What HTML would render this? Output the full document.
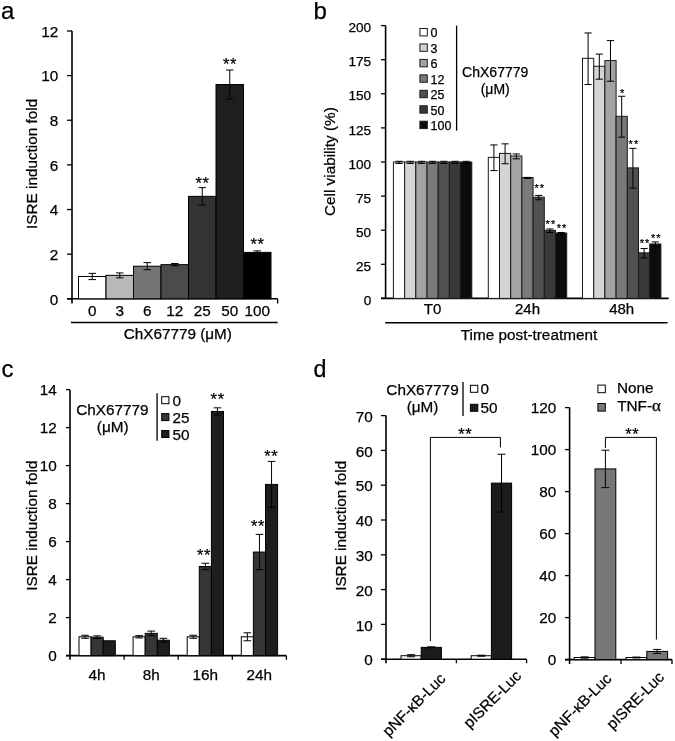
<!DOCTYPE html>
<html><head><meta charset="utf-8"><style>
html,body{margin:0;padding:0;background:#fff;}
svg{display:block;font-family:"Liberation Sans", sans-serif;will-change:transform;}
text{stroke:#000;stroke-width:0.25px;}
</style></head><body>
<svg width="675" height="741" viewBox="0 0 675 741">
<rect x="0" y="0" width="675" height="741" fill="#fff"/>
<text x="1.10" y="18.80" font-size="24" text-anchor="start" fill="#000">a</text>
<text x="313.50" y="18.80" font-size="24" text-anchor="start" fill="#000">b</text>
<text x="1.40" y="376.60" font-size="24" text-anchor="start" fill="#000">c</text>
<text x="313.60" y="377.00" font-size="23.3" text-anchor="start" fill="#000">d</text>
<line x1="72.00" y1="31.00" x2="72.00" y2="303.50" stroke="#000" stroke-width="1.6"/>
<line x1="67.00" y1="298.80" x2="72.00" y2="298.80" stroke="#000" stroke-width="1.3"/>
<text x="58.30" y="304.60" font-size="15.3" text-anchor="end" fill="#000">0</text>
<line x1="67.00" y1="254.16" x2="72.00" y2="254.16" stroke="#000" stroke-width="1.3"/>
<text x="58.30" y="259.96" font-size="15.3" text-anchor="end" fill="#000">2</text>
<line x1="67.00" y1="209.52" x2="72.00" y2="209.52" stroke="#000" stroke-width="1.3"/>
<text x="58.30" y="215.32" font-size="15.3" text-anchor="end" fill="#000">4</text>
<line x1="67.00" y1="164.88" x2="72.00" y2="164.88" stroke="#000" stroke-width="1.3"/>
<text x="58.30" y="170.68" font-size="15.3" text-anchor="end" fill="#000">6</text>
<line x1="67.00" y1="120.24" x2="72.00" y2="120.24" stroke="#000" stroke-width="1.3"/>
<text x="58.30" y="126.04" font-size="15.3" text-anchor="end" fill="#000">8</text>
<line x1="67.00" y1="75.60" x2="72.00" y2="75.60" stroke="#000" stroke-width="1.3"/>
<text x="58.30" y="81.40" font-size="15.3" text-anchor="end" fill="#000">10</text>
<line x1="67.00" y1="30.96" x2="72.00" y2="30.96" stroke="#000" stroke-width="1.3"/>
<text x="58.30" y="36.76" font-size="15.3" text-anchor="end" fill="#000">12</text>
<line x1="67.00" y1="298.80" x2="277.60" y2="298.80" stroke="#000" stroke-width="1.6"/>
<line x1="277.60" y1="298.80" x2="277.60" y2="303.50" stroke="#000" stroke-width="1.3"/>
<rect x="78.50" y="276.48" width="27.50" height="22.32" fill="#ffffff" stroke="#000" stroke-width="1.0"/>
<line x1="92.25" y1="273.36" x2="92.25" y2="279.60" stroke="#000" stroke-width="1.0"/>
<line x1="88.50" y1="273.36" x2="96.00" y2="273.36" stroke="#000" stroke-width="1.0"/>
<line x1="88.50" y1="279.60" x2="96.00" y2="279.60" stroke="#000" stroke-width="1.0"/>
<text x="92.25" y="315.50" font-size="15.3" text-anchor="middle" fill="#000">0</text>
<rect x="106.00" y="275.36" width="27.50" height="23.44" fill="#b8b8b8" stroke="#000" stroke-width="1.0"/>
<line x1="119.75" y1="272.91" x2="119.75" y2="277.82" stroke="#000" stroke-width="1.0"/>
<line x1="116.00" y1="272.91" x2="123.50" y2="272.91" stroke="#000" stroke-width="1.0"/>
<line x1="116.00" y1="277.82" x2="123.50" y2="277.82" stroke="#000" stroke-width="1.0"/>
<text x="119.75" y="315.50" font-size="15.3" text-anchor="middle" fill="#000">3</text>
<rect x="133.50" y="266.21" width="27.50" height="32.59" fill="#757575" stroke="#000" stroke-width="1.0"/>
<line x1="147.25" y1="262.64" x2="147.25" y2="269.78" stroke="#000" stroke-width="1.0"/>
<line x1="143.50" y1="262.64" x2="151.00" y2="262.64" stroke="#000" stroke-width="1.0"/>
<line x1="143.50" y1="269.78" x2="151.00" y2="269.78" stroke="#000" stroke-width="1.0"/>
<text x="147.25" y="315.50" font-size="15.3" text-anchor="middle" fill="#000">6</text>
<rect x="161.00" y="264.65" width="27.50" height="34.15" fill="#4b4b4b" stroke="#000" stroke-width="1.0"/>
<line x1="174.75" y1="263.53" x2="174.75" y2="265.77" stroke="#000" stroke-width="1.0"/>
<line x1="171.00" y1="263.53" x2="178.50" y2="263.53" stroke="#000" stroke-width="1.0"/>
<line x1="171.00" y1="265.77" x2="178.50" y2="265.77" stroke="#000" stroke-width="1.0"/>
<text x="174.75" y="315.50" font-size="15.3" text-anchor="middle" fill="#000">12</text>
<rect x="188.50" y="196.35" width="27.50" height="102.45" fill="#333333" stroke="#000" stroke-width="1.0"/>
<line x1="202.25" y1="187.65" x2="202.25" y2="205.06" stroke="#000" stroke-width="1.0"/>
<line x1="198.50" y1="187.65" x2="206.00" y2="187.65" stroke="#000" stroke-width="1.0"/>
<line x1="198.50" y1="205.06" x2="206.00" y2="205.06" stroke="#000" stroke-width="1.0"/>
<text x="202.25" y="315.50" font-size="15.3" text-anchor="middle" fill="#000">25</text>
<rect x="216.00" y="84.53" width="27.50" height="214.27" fill="#1e1e1e" stroke="#000" stroke-width="1.0"/>
<line x1="229.75" y1="70.02" x2="229.75" y2="99.04" stroke="#000" stroke-width="1.0"/>
<line x1="226.00" y1="70.02" x2="233.50" y2="70.02" stroke="#000" stroke-width="1.0"/>
<line x1="226.00" y1="99.04" x2="233.50" y2="99.04" stroke="#000" stroke-width="1.0"/>
<text x="229.75" y="315.50" font-size="15.3" text-anchor="middle" fill="#000">50</text>
<rect x="243.50" y="252.37" width="27.50" height="46.43" fill="#000000" stroke="#000" stroke-width="1.0"/>
<line x1="257.25" y1="250.92" x2="257.25" y2="253.83" stroke="#000" stroke-width="1.0"/>
<line x1="253.50" y1="250.92" x2="261.00" y2="250.92" stroke="#000" stroke-width="1.0"/>
<line x1="253.50" y1="253.83" x2="261.00" y2="253.83" stroke="#000" stroke-width="1.0"/>
<text x="257.25" y="315.50" font-size="15.3" text-anchor="middle" fill="#000">100</text>
<text x="202.60" y="188.60" font-size="16.5" text-anchor="middle" fill="#000" letter-spacing="0.7">**</text>
<text x="230.10" y="69.60" font-size="16.5" text-anchor="middle" fill="#000" letter-spacing="0.7">**</text>
<text x="257.60" y="250.20" font-size="16.5" text-anchor="middle" fill="#000" letter-spacing="0.7">**</text>
<line x1="71.00" y1="322.40" x2="277.60" y2="322.40" stroke="#000" stroke-width="1.5"/>
<text x="177.80" y="338.60" font-size="15.3" text-anchor="middle" fill="#000">ChX67779 (μM)</text>
<text x="36.90" y="163.90" font-size="15.3" text-anchor="middle" transform="rotate(-90 36.9 163.9)" fill="#000">ISRE induction fold</text>
<line x1="385.60" y1="25.60" x2="385.60" y2="298.40" stroke="#000" stroke-width="1.6"/>
<line x1="381.00" y1="298.40" x2="385.60" y2="298.40" stroke="#000" stroke-width="1.3"/>
<text x="371.20" y="305.00" font-size="13.6" text-anchor="end" fill="#000">0</text>
<line x1="381.00" y1="264.30" x2="385.60" y2="264.30" stroke="#000" stroke-width="1.3"/>
<text x="371.20" y="270.90" font-size="13.6" text-anchor="end" fill="#000">25</text>
<line x1="381.00" y1="230.20" x2="385.60" y2="230.20" stroke="#000" stroke-width="1.3"/>
<text x="371.20" y="236.80" font-size="13.6" text-anchor="end" fill="#000">50</text>
<line x1="381.00" y1="196.10" x2="385.60" y2="196.10" stroke="#000" stroke-width="1.3"/>
<text x="371.20" y="202.70" font-size="13.6" text-anchor="end" fill="#000">75</text>
<line x1="381.00" y1="162.00" x2="385.60" y2="162.00" stroke="#000" stroke-width="1.3"/>
<text x="371.20" y="168.60" font-size="13.6" text-anchor="end" fill="#000">100</text>
<line x1="381.00" y1="127.90" x2="385.60" y2="127.90" stroke="#000" stroke-width="1.3"/>
<text x="371.20" y="134.50" font-size="13.6" text-anchor="end" fill="#000">125</text>
<line x1="381.00" y1="93.80" x2="385.60" y2="93.80" stroke="#000" stroke-width="1.3"/>
<text x="371.20" y="100.40" font-size="13.6" text-anchor="end" fill="#000">150</text>
<line x1="381.00" y1="59.70" x2="385.60" y2="59.70" stroke="#000" stroke-width="1.3"/>
<text x="371.20" y="66.30" font-size="13.6" text-anchor="end" fill="#000">175</text>
<line x1="381.00" y1="25.60" x2="385.60" y2="25.60" stroke="#000" stroke-width="1.3"/>
<text x="371.20" y="32.20" font-size="13.6" text-anchor="end" fill="#000">200</text>
<line x1="381.00" y1="298.40" x2="668.60" y2="298.40" stroke="#000" stroke-width="1.6"/>
<rect x="393.40" y="162.00" width="11.20" height="136.40" fill="#ffffff" stroke="#1a1a1a" stroke-width="1.0"/>
<line x1="399.00" y1="161.31" x2="399.00" y2="163.49" stroke="#000" stroke-width="1.0"/>
<line x1="395.40" y1="161.31" x2="402.60" y2="161.31" stroke="#000" stroke-width="1.0"/>
<line x1="395.40" y1="163.49" x2="402.60" y2="163.49" stroke="#000" stroke-width="1.0"/>
<rect x="404.60" y="162.00" width="11.20" height="136.40" fill="#d4d4d4" stroke="#1a1a1a" stroke-width="1.0"/>
<line x1="410.20" y1="161.31" x2="410.20" y2="163.49" stroke="#000" stroke-width="1.0"/>
<line x1="406.60" y1="161.31" x2="413.80" y2="161.31" stroke="#000" stroke-width="1.0"/>
<line x1="406.60" y1="163.49" x2="413.80" y2="163.49" stroke="#000" stroke-width="1.0"/>
<rect x="415.80" y="162.00" width="11.20" height="136.40" fill="#a3a3a3" stroke="#1a1a1a" stroke-width="1.0"/>
<line x1="421.40" y1="161.31" x2="421.40" y2="163.49" stroke="#000" stroke-width="1.0"/>
<line x1="417.80" y1="161.31" x2="425.00" y2="161.31" stroke="#000" stroke-width="1.0"/>
<line x1="417.80" y1="163.49" x2="425.00" y2="163.49" stroke="#000" stroke-width="1.0"/>
<rect x="427.00" y="162.00" width="11.20" height="136.40" fill="#7a7a7a" stroke="#1a1a1a" stroke-width="1.0"/>
<line x1="432.60" y1="161.31" x2="432.60" y2="163.49" stroke="#000" stroke-width="1.0"/>
<line x1="429.00" y1="161.31" x2="436.20" y2="161.31" stroke="#000" stroke-width="1.0"/>
<line x1="429.00" y1="163.49" x2="436.20" y2="163.49" stroke="#000" stroke-width="1.0"/>
<rect x="438.20" y="162.00" width="11.20" height="136.40" fill="#515151" stroke="#1a1a1a" stroke-width="1.0"/>
<line x1="443.80" y1="161.31" x2="443.80" y2="163.49" stroke="#000" stroke-width="1.0"/>
<line x1="440.20" y1="161.31" x2="447.40" y2="161.31" stroke="#000" stroke-width="1.0"/>
<line x1="440.20" y1="163.49" x2="447.40" y2="163.49" stroke="#000" stroke-width="1.0"/>
<rect x="449.40" y="162.00" width="11.20" height="136.40" fill="#393939" stroke="#1a1a1a" stroke-width="1.0"/>
<line x1="455.00" y1="161.31" x2="455.00" y2="163.49" stroke="#000" stroke-width="1.0"/>
<line x1="451.40" y1="161.31" x2="458.60" y2="161.31" stroke="#000" stroke-width="1.0"/>
<line x1="451.40" y1="163.49" x2="458.60" y2="163.49" stroke="#000" stroke-width="1.0"/>
<rect x="460.60" y="162.00" width="11.20" height="136.40" fill="#0c0c0c" stroke="#1a1a1a" stroke-width="1.0"/>
<line x1="466.20" y1="161.31" x2="466.20" y2="163.49" stroke="#000" stroke-width="1.0"/>
<line x1="462.60" y1="161.31" x2="469.80" y2="161.31" stroke="#000" stroke-width="1.0"/>
<line x1="462.60" y1="163.49" x2="469.80" y2="163.49" stroke="#000" stroke-width="1.0"/>
<rect x="488.30" y="157.36" width="11.20" height="141.04" fill="#ffffff" stroke="#1a1a1a" stroke-width="1.0"/>
<line x1="493.90" y1="144.94" x2="493.90" y2="170.58" stroke="#000" stroke-width="1.0"/>
<line x1="490.30" y1="144.94" x2="497.50" y2="144.94" stroke="#000" stroke-width="1.0"/>
<line x1="490.30" y1="170.58" x2="497.50" y2="170.58" stroke="#000" stroke-width="1.0"/>
<rect x="499.50" y="153.41" width="11.20" height="144.99" fill="#d4d4d4" stroke="#1a1a1a" stroke-width="1.0"/>
<line x1="505.10" y1="143.85" x2="505.10" y2="163.76" stroke="#000" stroke-width="1.0"/>
<line x1="501.50" y1="143.85" x2="508.70" y2="143.85" stroke="#000" stroke-width="1.0"/>
<line x1="501.50" y1="163.76" x2="508.70" y2="163.76" stroke="#000" stroke-width="1.0"/>
<rect x="510.70" y="156.00" width="11.20" height="142.40" fill="#a3a3a3" stroke="#1a1a1a" stroke-width="1.0"/>
<line x1="516.30" y1="153.94" x2="516.30" y2="158.85" stroke="#000" stroke-width="1.0"/>
<line x1="512.70" y1="153.94" x2="519.90" y2="153.94" stroke="#000" stroke-width="1.0"/>
<line x1="512.70" y1="158.85" x2="519.90" y2="158.85" stroke="#000" stroke-width="1.0"/>
<rect x="521.90" y="177.55" width="11.20" height="120.85" fill="#7a7a7a" stroke="#1a1a1a" stroke-width="1.0"/>
<line x1="527.50" y1="177.40" x2="527.50" y2="178.50" stroke="#000" stroke-width="1.0"/>
<line x1="523.90" y1="177.40" x2="531.10" y2="177.40" stroke="#000" stroke-width="1.0"/>
<line x1="523.90" y1="178.50" x2="531.10" y2="178.50" stroke="#000" stroke-width="1.0"/>
<rect x="533.10" y="197.19" width="11.20" height="101.21" fill="#515151" stroke="#1a1a1a" stroke-width="1.0"/>
<line x1="538.70" y1="195.41" x2="538.70" y2="199.77" stroke="#000" stroke-width="1.0"/>
<line x1="535.10" y1="195.41" x2="542.30" y2="195.41" stroke="#000" stroke-width="1.0"/>
<line x1="535.10" y1="199.77" x2="542.30" y2="199.77" stroke="#000" stroke-width="1.0"/>
<rect x="544.30" y="230.34" width="11.20" height="68.06" fill="#393939" stroke="#1a1a1a" stroke-width="1.0"/>
<line x1="549.90" y1="228.96" x2="549.90" y2="232.51" stroke="#000" stroke-width="1.0"/>
<line x1="546.30" y1="228.96" x2="553.50" y2="228.96" stroke="#000" stroke-width="1.0"/>
<line x1="546.30" y1="232.51" x2="553.50" y2="232.51" stroke="#000" stroke-width="1.0"/>
<rect x="555.50" y="233.06" width="11.20" height="65.34" fill="#0c0c0c" stroke="#1a1a1a" stroke-width="1.0"/>
<line x1="561.10" y1="232.51" x2="561.10" y2="234.42" stroke="#000" stroke-width="1.0"/>
<line x1="557.50" y1="232.51" x2="564.70" y2="232.51" stroke="#000" stroke-width="1.0"/>
<line x1="557.50" y1="234.42" x2="564.70" y2="234.42" stroke="#000" stroke-width="1.0"/>
<rect x="582.50" y="58.34" width="11.20" height="240.06" fill="#ffffff" stroke="#1a1a1a" stroke-width="1.0"/>
<line x1="588.10" y1="32.96" x2="588.10" y2="84.52" stroke="#000" stroke-width="1.0"/>
<line x1="584.50" y1="32.96" x2="591.70" y2="32.96" stroke="#000" stroke-width="1.0"/>
<line x1="584.50" y1="84.52" x2="591.70" y2="84.52" stroke="#000" stroke-width="1.0"/>
<rect x="593.70" y="66.25" width="11.20" height="232.15" fill="#d4d4d4" stroke="#1a1a1a" stroke-width="1.0"/>
<line x1="599.30" y1="54.10" x2="599.30" y2="79.20" stroke="#000" stroke-width="1.0"/>
<line x1="595.70" y1="54.10" x2="602.90" y2="54.10" stroke="#000" stroke-width="1.0"/>
<line x1="595.70" y1="79.20" x2="602.90" y2="79.20" stroke="#000" stroke-width="1.0"/>
<rect x="604.90" y="60.52" width="11.20" height="237.88" fill="#a3a3a3" stroke="#1a1a1a" stroke-width="1.0"/>
<line x1="610.50" y1="40.59" x2="610.50" y2="81.24" stroke="#000" stroke-width="1.0"/>
<line x1="606.90" y1="40.59" x2="614.10" y2="40.59" stroke="#000" stroke-width="1.0"/>
<line x1="606.90" y1="81.24" x2="614.10" y2="81.24" stroke="#000" stroke-width="1.0"/>
<rect x="616.10" y="116.31" width="11.20" height="182.09" fill="#7a7a7a" stroke="#1a1a1a" stroke-width="1.0"/>
<line x1="621.70" y1="96.25" x2="621.70" y2="137.17" stroke="#000" stroke-width="1.0"/>
<line x1="618.10" y1="96.25" x2="625.30" y2="96.25" stroke="#000" stroke-width="1.0"/>
<line x1="618.10" y1="137.17" x2="625.30" y2="137.17" stroke="#000" stroke-width="1.0"/>
<rect x="627.30" y="167.87" width="11.20" height="130.53" fill="#515151" stroke="#1a1a1a" stroke-width="1.0"/>
<line x1="632.90" y1="148.35" x2="632.90" y2="188.18" stroke="#000" stroke-width="1.0"/>
<line x1="629.30" y1="148.35" x2="636.50" y2="148.35" stroke="#000" stroke-width="1.0"/>
<line x1="629.30" y1="188.18" x2="636.50" y2="188.18" stroke="#000" stroke-width="1.0"/>
<rect x="638.50" y="252.84" width="11.20" height="45.56" fill="#393939" stroke="#1a1a1a" stroke-width="1.0"/>
<line x1="644.10" y1="248.47" x2="644.10" y2="258.02" stroke="#000" stroke-width="1.0"/>
<line x1="640.50" y1="248.47" x2="647.70" y2="248.47" stroke="#000" stroke-width="1.0"/>
<line x1="640.50" y1="258.02" x2="647.70" y2="258.02" stroke="#000" stroke-width="1.0"/>
<rect x="649.70" y="243.98" width="11.20" height="54.42" fill="#0c0c0c" stroke="#1a1a1a" stroke-width="1.0"/>
<line x1="655.30" y1="241.92" x2="655.30" y2="246.83" stroke="#000" stroke-width="1.0"/>
<line x1="651.70" y1="241.92" x2="658.90" y2="241.92" stroke="#000" stroke-width="1.0"/>
<line x1="651.70" y1="246.83" x2="658.90" y2="246.83" stroke="#000" stroke-width="1.0"/>
<text x="539.70" y="192.30" font-size="11" text-anchor="middle" fill="#000" letter-spacing="1.0">**</text>
<text x="550.90" y="228.30" font-size="11" text-anchor="middle" fill="#000" letter-spacing="1.0">**</text>
<text x="562.10" y="231.90" font-size="11" text-anchor="middle" fill="#000" letter-spacing="1.0">**</text>
<text x="622.20" y="96.90" font-size="11" text-anchor="middle" fill="#000">*</text>
<text x="633.90" y="147.50" font-size="11" text-anchor="middle" fill="#000" letter-spacing="1.0">**</text>
<text x="645.10" y="247.20" font-size="11" text-anchor="middle" fill="#000" letter-spacing="1.0">**</text>
<text x="656.30" y="242.30" font-size="11" text-anchor="middle" fill="#000" letter-spacing="1.0">**</text>
<text x="432.60" y="313.70" font-size="15" text-anchor="middle" fill="#000">T0</text>
<text x="527.50" y="313.70" font-size="15" text-anchor="middle" fill="#000">24h</text>
<text x="621.70" y="313.70" font-size="15" text-anchor="middle" fill="#000">48h</text>
<line x1="385.20" y1="322.80" x2="667.60" y2="322.80" stroke="#000" stroke-width="1.5"/>
<text x="529.00" y="340.00" font-size="15.3" text-anchor="middle" fill="#000">Time post-treatment</text>
<text x="335.50" y="161.60" font-size="15.3" text-anchor="middle" transform="rotate(-90 335.5 161.6)" fill="#000">Cell viability (%)</text>
<rect x="419.90" y="28.50" width="7.40" height="7.40" fill="#ffffff" stroke="#1a1a1a" stroke-width="1.0"/>
<text x="430.50" y="37.30" font-size="12.5" text-anchor="start" fill="#000">0</text>
<rect x="419.90" y="43.95" width="7.40" height="7.40" fill="#d4d4d4" stroke="#1a1a1a" stroke-width="1.0"/>
<text x="430.50" y="52.75" font-size="12.5" text-anchor="start" fill="#000">3</text>
<rect x="419.90" y="59.40" width="7.40" height="7.40" fill="#a3a3a3" stroke="#1a1a1a" stroke-width="1.0"/>
<text x="430.50" y="68.20" font-size="12.5" text-anchor="start" fill="#000">6</text>
<rect x="419.90" y="74.85" width="7.40" height="7.40" fill="#7a7a7a" stroke="#1a1a1a" stroke-width="1.0"/>
<text x="430.50" y="83.65" font-size="12.5" text-anchor="start" fill="#000">12</text>
<rect x="419.90" y="90.30" width="7.40" height="7.40" fill="#515151" stroke="#1a1a1a" stroke-width="1.0"/>
<text x="430.50" y="99.10" font-size="12.5" text-anchor="start" fill="#000">25</text>
<rect x="419.90" y="105.75" width="7.40" height="7.40" fill="#393939" stroke="#1a1a1a" stroke-width="1.0"/>
<text x="430.50" y="114.55" font-size="12.5" text-anchor="start" fill="#000">50</text>
<rect x="419.90" y="121.20" width="7.40" height="7.40" fill="#0c0c0c" stroke="#1a1a1a" stroke-width="1.0"/>
<text x="430.50" y="130.00" font-size="12.5" text-anchor="start" fill="#000">100</text>
<line x1="456.60" y1="25.60" x2="456.60" y2="130.60" stroke="#000" stroke-width="1.3"/>
<text x="495.20" y="76.60" font-size="14" text-anchor="middle" fill="#000">ChX67779</text>
<text x="495.20" y="93.60" font-size="14" text-anchor="middle" fill="#000">(μM)</text>
<line x1="70.00" y1="390.00" x2="70.00" y2="659.80" stroke="#000" stroke-width="1.6"/>
<line x1="66.00" y1="655.60" x2="70.00" y2="655.60" stroke="#000" stroke-width="1.3"/>
<text x="56.70" y="661.40" font-size="15.3" text-anchor="end" fill="#000">0</text>
<line x1="66.00" y1="617.60" x2="70.00" y2="617.60" stroke="#000" stroke-width="1.3"/>
<text x="56.70" y="623.40" font-size="15.3" text-anchor="end" fill="#000">2</text>
<line x1="66.00" y1="579.60" x2="70.00" y2="579.60" stroke="#000" stroke-width="1.3"/>
<text x="56.70" y="585.40" font-size="15.3" text-anchor="end" fill="#000">4</text>
<line x1="66.00" y1="541.60" x2="70.00" y2="541.60" stroke="#000" stroke-width="1.3"/>
<text x="56.70" y="547.40" font-size="15.3" text-anchor="end" fill="#000">6</text>
<line x1="66.00" y1="503.60" x2="70.00" y2="503.60" stroke="#000" stroke-width="1.3"/>
<text x="56.70" y="509.40" font-size="15.3" text-anchor="end" fill="#000">8</text>
<line x1="66.00" y1="465.60" x2="70.00" y2="465.60" stroke="#000" stroke-width="1.3"/>
<text x="56.70" y="471.40" font-size="15.3" text-anchor="end" fill="#000">10</text>
<line x1="66.00" y1="427.60" x2="70.00" y2="427.60" stroke="#000" stroke-width="1.3"/>
<text x="56.70" y="433.40" font-size="15.3" text-anchor="end" fill="#000">12</text>
<line x1="66.00" y1="389.60" x2="70.00" y2="389.60" stroke="#000" stroke-width="1.3"/>
<text x="56.70" y="395.40" font-size="15.3" text-anchor="end" fill="#000">14</text>
<line x1="66.00" y1="655.60" x2="286.40" y2="655.60" stroke="#000" stroke-width="1.6"/>
<line x1="124.10" y1="655.60" x2="124.10" y2="659.80" stroke="#000" stroke-width="1.3"/>
<line x1="178.20" y1="655.60" x2="178.20" y2="659.80" stroke="#000" stroke-width="1.3"/>
<line x1="232.30" y1="655.60" x2="232.30" y2="659.80" stroke="#000" stroke-width="1.3"/>
<line x1="286.40" y1="655.60" x2="286.40" y2="659.80" stroke="#000" stroke-width="1.3"/>
<rect x="79.00" y="636.79" width="12.10" height="18.81" fill="#ffffff" stroke="#000" stroke-width="1.0"/>
<line x1="85.05" y1="635.27" x2="85.05" y2="638.31" stroke="#000" stroke-width="1.0"/>
<line x1="81.25" y1="635.27" x2="88.85" y2="635.27" stroke="#000" stroke-width="1.0"/>
<line x1="81.25" y1="638.31" x2="88.85" y2="638.31" stroke="#000" stroke-width="1.0"/>
<rect x="91.10" y="637.17" width="12.10" height="18.43" fill="#363636" stroke="#000" stroke-width="1.0"/>
<line x1="97.15" y1="635.84" x2="97.15" y2="638.50" stroke="#000" stroke-width="1.0"/>
<line x1="93.35" y1="635.84" x2="100.95" y2="635.84" stroke="#000" stroke-width="1.0"/>
<line x1="93.35" y1="638.50" x2="100.95" y2="638.50" stroke="#000" stroke-width="1.0"/>
<rect x="103.20" y="640.78" width="12.10" height="14.82" fill="#1d1d1d" stroke="#000" stroke-width="1.0"/>
<text x="97.05" y="680.20" font-size="15.3" text-anchor="middle" fill="#000">4h</text>
<rect x="133.10" y="636.79" width="12.10" height="18.81" fill="#ffffff" stroke="#000" stroke-width="1.0"/>
<line x1="139.15" y1="635.65" x2="139.15" y2="637.93" stroke="#000" stroke-width="1.0"/>
<line x1="135.35" y1="635.65" x2="142.95" y2="635.65" stroke="#000" stroke-width="1.0"/>
<line x1="135.35" y1="637.93" x2="142.95" y2="637.93" stroke="#000" stroke-width="1.0"/>
<rect x="145.20" y="633.37" width="12.10" height="22.23" fill="#363636" stroke="#000" stroke-width="1.0"/>
<line x1="151.25" y1="631.09" x2="151.25" y2="635.65" stroke="#000" stroke-width="1.0"/>
<line x1="147.45" y1="631.09" x2="155.05" y2="631.09" stroke="#000" stroke-width="1.0"/>
<line x1="147.45" y1="635.65" x2="155.05" y2="635.65" stroke="#000" stroke-width="1.0"/>
<rect x="157.30" y="640.21" width="12.10" height="15.39" fill="#1d1d1d" stroke="#000" stroke-width="1.0"/>
<line x1="163.35" y1="638.31" x2="163.35" y2="642.11" stroke="#000" stroke-width="1.0"/>
<line x1="159.55" y1="638.31" x2="167.15" y2="638.31" stroke="#000" stroke-width="1.0"/>
<line x1="159.55" y1="642.11" x2="167.15" y2="642.11" stroke="#000" stroke-width="1.0"/>
<text x="151.15" y="680.20" font-size="15.3" text-anchor="middle" fill="#000">8h</text>
<rect x="187.20" y="636.79" width="12.10" height="18.81" fill="#ffffff" stroke="#000" stroke-width="1.0"/>
<line x1="193.25" y1="635.27" x2="193.25" y2="638.31" stroke="#000" stroke-width="1.0"/>
<line x1="189.45" y1="635.27" x2="197.05" y2="635.27" stroke="#000" stroke-width="1.0"/>
<line x1="189.45" y1="638.31" x2="197.05" y2="638.31" stroke="#000" stroke-width="1.0"/>
<rect x="199.30" y="566.49" width="12.10" height="89.11" fill="#363636" stroke="#000" stroke-width="1.0"/>
<line x1="205.35" y1="563.26" x2="205.35" y2="569.72" stroke="#000" stroke-width="1.0"/>
<line x1="201.55" y1="563.26" x2="209.15" y2="563.26" stroke="#000" stroke-width="1.0"/>
<line x1="201.55" y1="569.72" x2="209.15" y2="569.72" stroke="#000" stroke-width="1.0"/>
<rect x="211.40" y="411.45" width="12.10" height="244.15" fill="#1d1d1d" stroke="#000" stroke-width="1.0"/>
<line x1="217.45" y1="407.84" x2="217.45" y2="415.06" stroke="#000" stroke-width="1.0"/>
<line x1="213.65" y1="407.84" x2="221.25" y2="407.84" stroke="#000" stroke-width="1.0"/>
<line x1="213.65" y1="415.06" x2="221.25" y2="415.06" stroke="#000" stroke-width="1.0"/>
<text x="205.25" y="680.20" font-size="15.3" text-anchor="middle" fill="#000">16h</text>
<rect x="241.30" y="636.79" width="12.10" height="18.81" fill="#ffffff" stroke="#000" stroke-width="1.0"/>
<line x1="247.35" y1="632.80" x2="247.35" y2="640.78" stroke="#000" stroke-width="1.0"/>
<line x1="243.55" y1="632.80" x2="251.15" y2="632.80" stroke="#000" stroke-width="1.0"/>
<line x1="243.55" y1="640.78" x2="251.15" y2="640.78" stroke="#000" stroke-width="1.0"/>
<rect x="253.40" y="552.05" width="12.10" height="103.55" fill="#363636" stroke="#000" stroke-width="1.0"/>
<line x1="259.45" y1="534.38" x2="259.45" y2="569.72" stroke="#000" stroke-width="1.0"/>
<line x1="255.65" y1="534.38" x2="263.25" y2="534.38" stroke="#000" stroke-width="1.0"/>
<line x1="255.65" y1="569.72" x2="263.25" y2="569.72" stroke="#000" stroke-width="1.0"/>
<rect x="265.50" y="484.41" width="12.10" height="171.19" fill="#1d1d1d" stroke="#000" stroke-width="1.0"/>
<line x1="271.55" y1="461.42" x2="271.55" y2="507.40" stroke="#000" stroke-width="1.0"/>
<line x1="267.75" y1="461.42" x2="275.35" y2="461.42" stroke="#000" stroke-width="1.0"/>
<line x1="267.75" y1="507.40" x2="275.35" y2="507.40" stroke="#000" stroke-width="1.0"/>
<text x="259.35" y="680.20" font-size="15.3" text-anchor="middle" fill="#000">24h</text>
<text x="204.05" y="560.70" font-size="16.5" text-anchor="middle" fill="#000" letter-spacing="0.7">**</text>
<text x="217.65" y="405.30" font-size="16.5" text-anchor="middle" fill="#000" letter-spacing="0.7">**</text>
<text x="258.05" y="532.30" font-size="16.5" text-anchor="middle" fill="#000" letter-spacing="0.7">**</text>
<text x="271.35" y="461.70" font-size="16.5" text-anchor="middle" fill="#000" letter-spacing="0.7">**</text>
<text x="36.80" y="525.60" font-size="15.3" text-anchor="middle" transform="rotate(-90 36.8 525.6)" fill="#000">ISRE induction fold</text>
<text x="112.40" y="414.50" font-size="15.3" text-anchor="middle" fill="#000">ChX67779</text>
<text x="112.70" y="431.70" font-size="15.3" text-anchor="middle" fill="#000">(μM)</text>
<line x1="157.10" y1="393.20" x2="157.10" y2="440.70" stroke="#000" stroke-width="1.3"/>
<rect x="161.70" y="396.70" width="7.20" height="7.00" fill="#ffffff" stroke="#000" stroke-width="1.0"/>
<text x="172.60" y="405.70" font-size="15.3" text-anchor="start" fill="#000">0</text>
<rect x="161.70" y="413.60" width="7.20" height="7.00" fill="#363636" stroke="#000" stroke-width="1.0"/>
<text x="172.60" y="422.60" font-size="15.3" text-anchor="start" fill="#000">25</text>
<rect x="161.70" y="430.50" width="7.20" height="7.00" fill="#1d1d1d" stroke="#000" stroke-width="1.0"/>
<text x="172.60" y="439.50" font-size="15.3" text-anchor="start" fill="#000">50</text>
<line x1="386.00" y1="415.60" x2="386.00" y2="663.20" stroke="#000" stroke-width="1.6"/>
<line x1="381.00" y1="659.20" x2="386.00" y2="659.20" stroke="#000" stroke-width="1.3"/>
<text x="372.70" y="665.40" font-size="15.3" text-anchor="end" fill="#000">0</text>
<line x1="381.00" y1="624.40" x2="386.00" y2="624.40" stroke="#000" stroke-width="1.3"/>
<text x="372.70" y="630.60" font-size="15.3" text-anchor="end" fill="#000">10</text>
<line x1="381.00" y1="589.60" x2="386.00" y2="589.60" stroke="#000" stroke-width="1.3"/>
<text x="372.70" y="595.80" font-size="15.3" text-anchor="end" fill="#000">20</text>
<line x1="381.00" y1="554.80" x2="386.00" y2="554.80" stroke="#000" stroke-width="1.3"/>
<text x="372.70" y="561.00" font-size="15.3" text-anchor="end" fill="#000">30</text>
<line x1="381.00" y1="520.00" x2="386.00" y2="520.00" stroke="#000" stroke-width="1.3"/>
<text x="372.70" y="526.20" font-size="15.3" text-anchor="end" fill="#000">40</text>
<line x1="381.00" y1="485.20" x2="386.00" y2="485.20" stroke="#000" stroke-width="1.3"/>
<text x="372.70" y="491.40" font-size="15.3" text-anchor="end" fill="#000">50</text>
<line x1="381.00" y1="450.40" x2="386.00" y2="450.40" stroke="#000" stroke-width="1.3"/>
<text x="372.70" y="456.60" font-size="15.3" text-anchor="end" fill="#000">60</text>
<line x1="381.00" y1="415.60" x2="386.00" y2="415.60" stroke="#000" stroke-width="1.3"/>
<text x="372.70" y="421.80" font-size="15.3" text-anchor="end" fill="#000">70</text>
<line x1="381.00" y1="659.20" x2="526.60" y2="659.20" stroke="#000" stroke-width="1.6"/>
<line x1="456.40" y1="659.20" x2="456.40" y2="663.20" stroke="#000" stroke-width="1.3"/>
<line x1="526.60" y1="659.20" x2="526.60" y2="663.20" stroke="#000" stroke-width="1.3"/>
<rect x="401.00" y="655.72" width="20.20" height="3.48" fill="#ffffff" stroke="#000" stroke-width="1.0"/>
<line x1="411.10" y1="654.68" x2="411.10" y2="656.76" stroke="#000" stroke-width="1.0"/>
<line x1="407.10" y1="654.68" x2="415.10" y2="654.68" stroke="#000" stroke-width="1.0"/>
<line x1="407.10" y1="656.76" x2="415.10" y2="656.76" stroke="#000" stroke-width="1.0"/>
<rect x="421.20" y="647.37" width="20.20" height="11.83" fill="#1c1c1c" stroke="#000" stroke-width="1.0"/>
<line x1="431.30" y1="646.85" x2="431.30" y2="647.89" stroke="#000" stroke-width="1.0"/>
<line x1="427.30" y1="646.85" x2="435.30" y2="646.85" stroke="#000" stroke-width="1.0"/>
<line x1="427.30" y1="647.89" x2="435.30" y2="647.89" stroke="#000" stroke-width="1.0"/>
<rect x="471.20" y="655.72" width="20.20" height="3.48" fill="#ffffff" stroke="#000" stroke-width="1.0"/>
<line x1="481.30" y1="655.20" x2="481.30" y2="656.24" stroke="#000" stroke-width="1.0"/>
<line x1="477.30" y1="655.20" x2="485.30" y2="655.20" stroke="#000" stroke-width="1.0"/>
<line x1="477.30" y1="656.24" x2="485.30" y2="656.24" stroke="#000" stroke-width="1.0"/>
<rect x="491.40" y="483.11" width="20.20" height="176.09" fill="#1c1c1c" stroke="#000" stroke-width="1.0"/>
<line x1="501.50" y1="454.23" x2="501.50" y2="512.00" stroke="#000" stroke-width="1.0"/>
<line x1="497.50" y1="454.23" x2="505.50" y2="454.23" stroke="#000" stroke-width="1.0"/>
<line x1="497.50" y1="512.00" x2="505.50" y2="512.00" stroke="#000" stroke-width="1.0"/>
<path d="M430.4,641 L430.4,437.4 L500.4,437.4 L500.4,447.4" fill="none" stroke="#000" stroke-width="1.0"/>
<text x="465.35" y="440.00" font-size="16.5" text-anchor="middle" fill="#000" letter-spacing="0.7">**</text>
<text x="346.50" y="525.80" font-size="15.3" text-anchor="middle" transform="rotate(-90 346.5 525.8)" fill="#000">ISRE induction fold</text>
<text x="422.50" y="394.60" font-size="15.3" text-anchor="middle" fill="#000">ChX67779</text>
<text x="422.50" y="412.30" font-size="15.3" text-anchor="middle" fill="#000">(μM)</text>
<line x1="463.00" y1="382.00" x2="463.00" y2="416.00" stroke="#000" stroke-width="1.3"/>
<rect x="470.40" y="385.30" width="7.40" height="7.00" fill="#ffffff" stroke="#000" stroke-width="1.0"/>
<text x="480.40" y="393.80" font-size="15.3" text-anchor="start" fill="#000">0</text>
<rect x="470.40" y="404.30" width="7.40" height="7.00" fill="#1c1c1c" stroke="#000" stroke-width="1.0"/>
<text x="480.40" y="412.80" font-size="15.3" text-anchor="start" fill="#000">50</text>
<line x1="569.60" y1="407.60" x2="569.60" y2="664.00" stroke="#000" stroke-width="1.6"/>
<line x1="565.00" y1="659.60" x2="569.60" y2="659.60" stroke="#000" stroke-width="1.3"/>
<text x="556.20" y="665.40" font-size="15.3" text-anchor="end" fill="#000">0</text>
<line x1="565.00" y1="617.60" x2="569.60" y2="617.60" stroke="#000" stroke-width="1.3"/>
<text x="556.20" y="623.40" font-size="15.3" text-anchor="end" fill="#000">20</text>
<line x1="565.00" y1="575.60" x2="569.60" y2="575.60" stroke="#000" stroke-width="1.3"/>
<text x="556.20" y="581.40" font-size="15.3" text-anchor="end" fill="#000">40</text>
<line x1="565.00" y1="533.60" x2="569.60" y2="533.60" stroke="#000" stroke-width="1.3"/>
<text x="556.20" y="539.40" font-size="15.3" text-anchor="end" fill="#000">60</text>
<line x1="565.00" y1="491.60" x2="569.60" y2="491.60" stroke="#000" stroke-width="1.3"/>
<text x="556.20" y="497.40" font-size="15.3" text-anchor="end" fill="#000">80</text>
<line x1="565.00" y1="449.60" x2="569.60" y2="449.60" stroke="#000" stroke-width="1.3"/>
<text x="556.20" y="455.40" font-size="15.3" text-anchor="end" fill="#000">100</text>
<line x1="565.00" y1="407.60" x2="569.60" y2="407.60" stroke="#000" stroke-width="1.3"/>
<text x="556.20" y="413.40" font-size="15.3" text-anchor="end" fill="#000">120</text>
<line x1="565.00" y1="659.60" x2="672.00" y2="659.60" stroke="#000" stroke-width="1.6"/>
<line x1="621.00" y1="659.60" x2="621.00" y2="664.00" stroke="#000" stroke-width="1.3"/>
<line x1="672.00" y1="659.60" x2="672.00" y2="664.00" stroke="#000" stroke-width="1.3"/>
<rect x="574.20" y="657.50" width="20.80" height="2.10" fill="#ffffff" stroke="#000" stroke-width="1.0"/>
<line x1="584.60" y1="656.87" x2="584.60" y2="658.13" stroke="#000" stroke-width="1.0"/>
<line x1="580.60" y1="656.87" x2="588.60" y2="656.87" stroke="#000" stroke-width="1.0"/>
<line x1="580.60" y1="658.13" x2="588.60" y2="658.13" stroke="#000" stroke-width="1.0"/>
<rect x="595.00" y="468.92" width="20.80" height="190.68" fill="#777777" stroke="#000" stroke-width="1.0"/>
<line x1="605.40" y1="450.23" x2="605.40" y2="487.61" stroke="#000" stroke-width="1.0"/>
<line x1="601.40" y1="450.23" x2="609.40" y2="450.23" stroke="#000" stroke-width="1.0"/>
<line x1="601.40" y1="487.61" x2="609.40" y2="487.61" stroke="#000" stroke-width="1.0"/>
<rect x="626.00" y="657.50" width="20.80" height="2.10" fill="#ffffff" stroke="#000" stroke-width="1.0"/>
<line x1="636.40" y1="657.08" x2="636.40" y2="657.92" stroke="#000" stroke-width="1.0"/>
<line x1="632.40" y1="657.08" x2="640.40" y2="657.08" stroke="#000" stroke-width="1.0"/>
<line x1="632.40" y1="657.92" x2="640.40" y2="657.92" stroke="#000" stroke-width="1.0"/>
<rect x="646.80" y="651.41" width="20.80" height="8.19" fill="#777777" stroke="#000" stroke-width="1.0"/>
<line x1="657.20" y1="649.41" x2="657.20" y2="653.40" stroke="#000" stroke-width="1.0"/>
<line x1="653.20" y1="649.41" x2="661.20" y2="649.41" stroke="#000" stroke-width="1.0"/>
<line x1="653.20" y1="653.40" x2="661.20" y2="653.40" stroke="#000" stroke-width="1.0"/>
<path d="M605.4,448 L605.4,437.4 L656.4,437.4 L656.4,639.6" fill="none" stroke="#000" stroke-width="1.0"/>
<text x="632.35" y="440.00" font-size="16.5" text-anchor="middle" fill="#000" letter-spacing="0.7">**</text>
<rect x="597.90" y="385.10" width="7.40" height="7.60" fill="#ffffff" stroke="#000" stroke-width="1.0"/>
<rect x="597.90" y="403.50" width="7.40" height="7.60" fill="#777777" stroke="#000" stroke-width="1.0"/>
<text x="617.00" y="392.70" font-size="15.3" text-anchor="start" fill="#000">None</text>
<text x="617.20" y="411.30" font-size="15.3" text-anchor="start" fill="#000">TNF-<tspan font-family="Liberation Serif" font-size="17">α</tspan></text>
<text x="446.50" y="679.50" font-size="15.3" text-anchor="end" transform="rotate(-45 446.5 679.5)" fill="#000">pNF-κB-Luc</text>
<text x="522.10" y="676.80" font-size="15.3" text-anchor="end" transform="rotate(-45 522.1 676.8)" fill="#000">pISRE-Luc</text>
<text x="612.50" y="679.50" font-size="15.3" text-anchor="end" transform="rotate(-45 612.5 679.5)" fill="#000">pNF-κB-Luc</text>
<text x="665.00" y="678.00" font-size="15.3" text-anchor="end" transform="rotate(-45 665.0 678.0)" fill="#000">pISRE-Luc</text>
</svg>
</body></html>
